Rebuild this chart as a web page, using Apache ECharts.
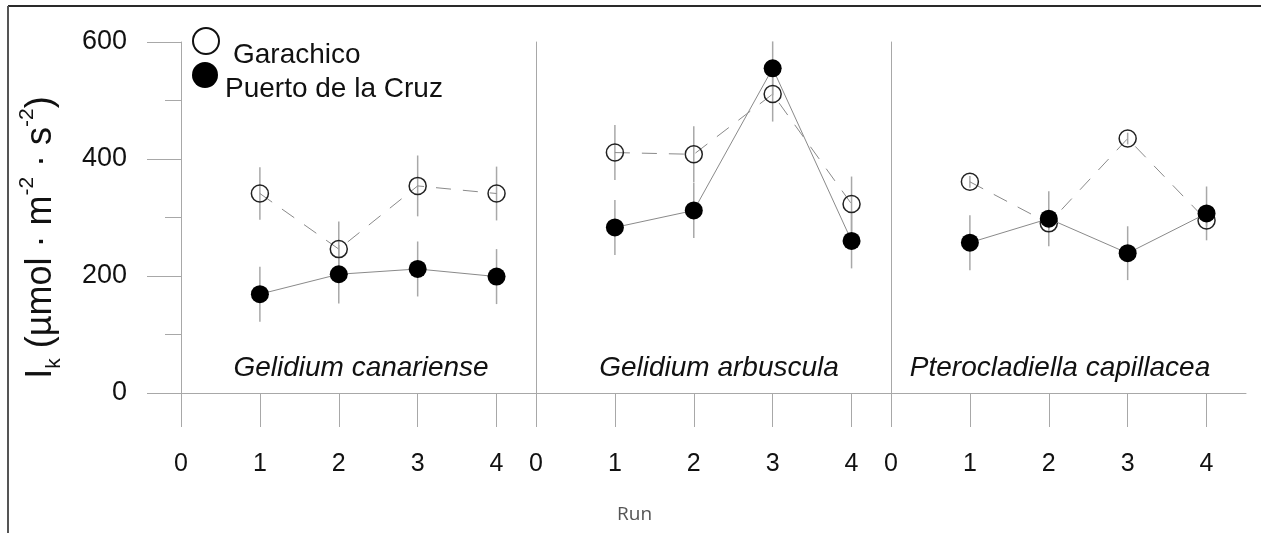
<!DOCTYPE html>
<html>
<head>
<meta charset="utf-8">
<script src="https://cdn.jsdelivr.net/npm/echarts@6/dist/echarts.min.js"></script>
<style>html,body{margin:0;padding:0;background:#fff;}#c{width:1261px;height:533px;}</style>
</head>
<body>
<div id="c"></div>
<script>
const runs = [1, 2, 3, 4];
const xTickValues = [0, 1, 2, 3, 4];
const species = ['Gelidium canariense', 'Gelidium arbuscula', 'Pterocladiella capillacea'];
const seriesNames = ['Garachico', 'Puerto de la Cruz'];
const garachico = [[341, 246, 354, 341], [411, 408, 511, 323], [361, 290, 435, 295]];
const garachicoErr = [[45, 47, 52, 46], [47, 48, 47, 47], [10, 10, 10, 10]];
const puerto = [[169, 203, 212, 199], [283, 312, 555, 260], [257, 298, 239, 307]];
const puertoErr = [[47, 50, 47, 47], [47, 47, 46, 47], [47, 47, 46, 46]];
const yMin = 0, yMax = 600, yInterval = 200;

const chart = echarts.init(document.getElementById('c'), null, {renderer: 'canvas'});
const FONT = '"Liberation Sans", Arial, sans-serif';
const panelLeft = [181, 536, 891];
const panelWidth = 355;

const grids = [], xAxes = [], yAxes = [], series = [];
for (let p = 0; p < 3; p++) {
  grids.push({left: panelLeft[p], top: 42, width: panelWidth, height: 351, containLabel: false});
  xAxes.push({
    type: 'value', gridIndex: p, min: 0, max: 4.5, interval: 1,
    axisLine: {show: true, lineStyle: {color: '#a8a8a8', width: 1}},
    axisTick: {show: true, inside: false, length: 34, lineStyle: {color: '#a8a8a8'}, customValues: xTickValues},
    axisLabel: {show: true, margin: 59, fontSize: 25, color: '#111', fontFamily: FONT, customValues: xTickValues},
    splitLine: {show: false}
  });
  const y = {
    type: 'value', gridIndex: p, min: yMin, max: yMax, interval: yInterval,
    axisLine: {show: true, lineStyle: {color: '#a8a8a8', width: 1}},
    axisTick: {show: p === 0, length: 34, lineStyle: {color: '#a8a8a8'}},
    minorTick: {show: p === 0, splitNumber: 2, length: 16, lineStyle: {color: '#a8a8a8'}},
    axisLabel: {show: p === 0, margin: 54, fontSize: 27, color: '#111', fontFamily: FONT},
    splitLine: {show: false}
  };
  if (p === 0) {
    y.name = 'I{sub|k} (µmol · m{sup|-2} · s{sup|-2})';
    y.nameLocation = 'middle';
    y.nameRotate = 90;
    y.nameGap = 116;
    y.nameTextStyle = {
      fontSize: 36, color: '#111', fontFamily: FONT, lineHeight: 48,
      padding: [0, 40, 0, 0],
      rich: {
        sub: {fontSize: 21, fontFamily: FONT, color: '#111', lineHeight: 27, verticalAlign: 'bottom'},
        sup: {fontSize: 21, fontFamily: FONT, color: '#111', lineHeight: 22, verticalAlign: 'top'}
      }
    };
  }
  yAxes.push(y);

  const errData = [];
  runs.forEach((r, i) => {
    errData.push([r, garachico[p][i] - garachicoErr[p][i], garachico[p][i] + garachicoErr[p][i]]);
    errData.push([r, puerto[p][i] - puertoErr[p][i], puerto[p][i] + puertoErr[p][i]]);
  });
  series.push({
    type: 'custom', xAxisIndex: p, yAxisIndex: p, z: 1, silent: true,
    data: errData,
    renderItem: function (params, api) {
      const a = api.coord([api.value(0), api.value(1)]);
      const b = api.coord([api.value(0), api.value(2)]);
      return {type: 'line', shape: {x1: a[0], y1: a[1], x2: b[0], y2: b[1]},
        style: {stroke: '#a8a8a8', lineWidth: 1.5}};
    }
  });
  series.push({
    name: seriesNames[1], type: 'line', xAxisIndex: p, yAxisIndex: p, z: 3,
    data: runs.map((r, i) => [r, puerto[p][i]]),
    symbol: 'circle', symbolSize: 18,
    lineStyle: {color: '#8a8a8a', width: 1},
    itemStyle: {color: '#000', borderColor: '#000', borderWidth: 0},
    emphasis: {disabled: true}
  });
  series.push({
    name: seriesNames[0], type: 'line', xAxisIndex: p, yAxisIndex: p, z: 2,
    data: runs.map((r, i) => [r, garachico[p][i]]),
    symbol: 'circle', symbolSize: 17,
    lineStyle: {color: '#8a8a8a', width: 1, type: [15, 12]},
    itemStyle: {color: 'rgba(255,255,255,0)', borderColor: '#222', borderWidth: 1.5},
    emphasis: {disabled: true}
  });
}

const speciesCenters = [361, 719, 1060];
const graphics = [
  {type: 'line', shape: {x1: 8, y1: 6, x2: 1261, y2: 6}, style: {stroke: '#2a2a2a', lineWidth: 2}},
  {type: 'line', shape: {x1: 8, y1: 6, x2: 8, y2: 533}, style: {stroke: '#555', lineWidth: 2}}
];
species.forEach((s, i) => {
  graphics.push({type: 'text', x: speciesCenters[i], y: 368,
    style: {text: s, fontSize: 28, fontStyle: 'italic', fontFamily: FONT, fill: '#111', textAlign: 'center', textVerticalAlign: 'middle'}});
});

const legendBase = {
  padding: 0, orient: 'vertical', itemWidth: 26, itemHeight: 26, icon: 'circle', selectedMode: false,
  formatter: function (name) { return '\n' + name; }
};
chart.setOption({
  animation: false,
  backgroundColor: '#fff',
  title: {text: 'Run', left: 617, top: 505, padding: 0,
    textStyle: {fontSize: 19, fontWeight: 'normal', color: '#555', fontFamily: '"Open Sans", sans-serif'}},
  legend: [
    Object.assign({}, legendBase, {data: [seriesNames[0]], left: 192, top: 13,
      itemStyle: {borderWidth: 2, borderColor: '#111', color: 'rgba(255,255,255,0)'},
      textStyle: {fontSize: 28, lineHeight: 28, color: '#111', fontFamily: FONT, padding: [0, 0, 0, 9]}}),
    Object.assign({}, legendBase, {data: [seriesNames[1]], left: 192, top: 47,
      textStyle: {fontSize: 28, lineHeight: 28, color: '#111', fontFamily: FONT, padding: [0, 0, 0, 2]}})
  ],
  grid: grids,
  xAxis: xAxes,
  yAxis: yAxes,
  series: series,
  graphic: graphics
});
</script>
</body>
</html>
